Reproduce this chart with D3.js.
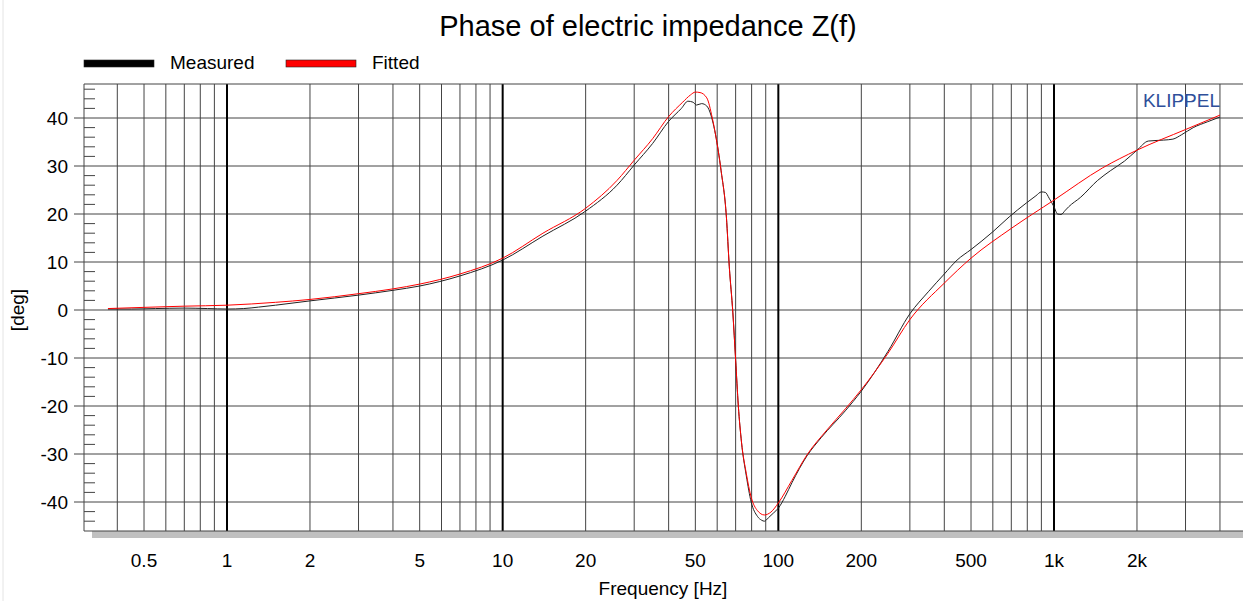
<!DOCTYPE html>
<html>
  <head>
    <meta charset="utf-8">
    <script src="https://d3js.org/d3.v7.min.js"></script>
    <title>Phase of electric impedance</title>
    <style type="text/css">
      body { margin: 0; background: #fff; }
      svg { display: block; }
      text { font-family: "Liberation Sans", Arial, sans-serif; fill: #000; }
      .grid { stroke: #444; stroke-width: 1; }
      .major { stroke: #000; stroke-width: 2; }
      .line { fill: none; stroke-width: 1; }
    </style>
  </head>
  <body>
    <div id="chart"></div>
    <script type="text/javascript">
      // fitted model curve
      var fittedFreq = [0.37, 0.5, 0.7, 1, 1.5, 2, 3, 4, 5, 7, 10, 14, 20, 26, 30, 35, 40, 45, 48, 50, 52, 55,
                        57.6, 59.2, 62, 64.8, 66.4, 68.4, 70, 71.6, 73.5, 76.5, 79.7, 84, 89, 94, 100, 112, 127,
                        150, 175, 200, 250, 300, 400, 500, 700, 1000, 1500, 2000, 3000, 4000];
      var fittedPhase = [0.3, 0.55, 0.8, 1.0, 1.6, 2.2, 3.4, 4.4, 5.4, 7.5, 10.8, 16, 21.2, 27, 31.2, 35.7, 40.3, 43.3, 44.8, 45.4, 45.3, 44.2,
                         40, 36.5, 29, 19.4, 9, -0.6, -10.4, -20, -27.5, -34, -39, -41.8, -42.7, -42.1, -40.2, -35.5, -30.2,
                         -25, -20.6, -16.6, -9, -2, 5.6, 10.8, 17, 22.9, 29.6, 33.3, 37.6, 40.6];

      // measured curve
      var measuredFreq = [0.37, 0.45, 0.55, 0.7, 0.85, 1, 1.15, 1.3, 1.5, 2, 3, 4, 5, 7, 10, 14, 20, 26, 30, 35, 40, 44.5,
                          47, 49, 50.5, 52.7, 55, 57.6, 59.2, 62, 64.8, 66.4, 68.4, 70, 71.6, 73.5, 76.5, 79.7, 84, 87,
                          89, 92, 96, 100, 106, 112, 127, 143, 175, 200, 250, 300, 350, 400, 445, 500, 600, 688, 794,
                          860, 900, 930, 960, 1000, 1030, 1060, 1100, 1130, 1250, 1440, 1600, 1800, 2000, 2200, 2500,
                          2700, 2900, 3200, 3600, 4000];
      var measuredPhase = [0.2, 0.2, 0.3, 0.4, 0.3, 0.2, 0.3, 0.6, 1.0, 1.9, 3.1, 4.1, 5.0, 7.1, 10.4, 15.4, 20.6, 26, 30.2, 34.7, 39.3, 42,
                           43.5, 43.3, 42.7, 43, 42.5, 39.6, 36.5, 29, 19.4, 9, -0.6, -10.4, -20, -27.5, -34.5, -40, -43, -43.8,
                           -44, -43.3, -42.3, -41.3, -38.8, -36, -30.4, -26.6, -21, -16.9, -8.6, -0.8, 3.8, 7.5, 10.4, 12.6, 16.3, 19.4, 22.3,
                           23.8, 24.6, 24.5, 23.3, 21.5, 20.0, 19.9, 20.8, 21.5, 23.5, 27, 29, 31, 33.3, 35.2, 35.4,
                           35.6, 36.5, 38, 39.2, 40.2];

      var xTickValues = [0.5, 1, 2, 5, 10, 20, 50, 100, 200, 500, 1000, 2000];
      var xTickLabels = ['0.5', '1', '2', '5', '10', '20', '50', '100', '200', '500', '1k', '2k'];
      var yTickValues = [-40, -30, -20, -10, 0, 10, 20, 30, 40];

      var width = 1243,
          height = 601,
          plotL = 84, plotR = 1243, plotT = 84, plotB = 531;

      var x = d3.scaleLog().domain([1, 1000]).range([227, 1054]);
      var y = d3.scaleLinear().domain([-40, 40]).range([502, 118]);

      var svg = d3.select('#chart')
        .append('svg')
        .attr('width', width)
        .attr('height', height);

      // faint window edge on the left
      svg.append('line')
        .attr('x1', 3).attr('x2', 3).attr('y1', 0).attr('y2', height)
        .attr('stroke', '#e4e4e4');

      svg.append('defs').append('clipPath').attr('id', 'plotClip')
        .append('rect')
        .attr('x', plotL).attr('y', plotT)
        .attr('width', plotR - plotL).attr('height', plotB - plotT);

      // shadow under the plot
      svg.append('rect')
        .attr('x', plotL + 8).attr('y', plotB)
        .attr('width', plotR - plotL - 8).attr('height', 7)
        .attr('fill', '#c0c0c0');

      // vertical grid, every 2..9 in each decade
      var minors = [];
      [0.1, 1, 10, 100, 1000].forEach(function(dec) {
        for (var k = 2; k <= 9; k++) {
          var v = dec * k;
          if (x(v) > plotL && x(v) < plotR) minors.push(v);
        }
      });
      svg.append('g').selectAll('line')
        .data(minors)
        .enter().append('line')
          .attr('class', 'grid')
          .attr('x1', function(d) { return x(d); })
          .attr('x2', function(d) { return x(d); })
          .attr('y1', plotT).attr('y2', plotB);

      // horizontal grid, sticking out left as major ticks
      svg.append('g').selectAll('line')
        .data(yTickValues)
        .enter().append('line')
          .attr('class', 'grid')
          .attr('x1', plotL - 10).attr('x2', plotR)
          .attr('y1', function(d) { return y(d); })
          .attr('y2', function(d) { return y(d); });

      // minor y ticks every 2 deg
      var yMinor = d3.range(-44, 48, 2).filter(function(d) { return d % 10 !== 0; });
      svg.append('g').selectAll('line')
        .data(yMinor)
        .enter().append('line')
          .attr('class', 'grid')
          .attr('x1', plotL).attr('x2', plotL + 11)
          .attr('y1', function(d) { return y(d); })
          .attr('y2', function(d) { return y(d); });

      svg.append('g').selectAll('line')
        .data([1, 10, 100, 1000])
        .enter().append('line')
          .attr('class', 'major')
          .attr('x1', function(d) { return x(d); })
          .attr('x2', function(d) { return x(d); })
          .attr('y1', plotT).attr('y2', plotB);

      // frame
      svg.append('path')
        .attr('d', 'M' + plotR + ',' + plotT + 'H' + plotL + 'V' + plotB + 'H' + plotR)
        .attr('fill', 'none')
        .attr('stroke', '#444');

      // curves
      var line = d3.line()
        .x(function(d) { return x(d[0]); })
        .y(function(d) { return y(d[1]); })
        .curve(d3.curveMonotoneX);

      var plot = svg.append('g').attr('clip-path', 'url(#plotClip)');

      plot.append('path')
        .datum(d3.zip(measuredFreq, measuredPhase))
        .attr('class', 'line')
        .attr('stroke', '#222')
        .attr('d', line);

      plot.append('path')
        .datum(d3.zip(fittedFreq, fittedPhase))
        .attr('class', 'line')
        .attr('stroke', '#ff0000')
        .attr('d', line);

      // tick labels
      svg.append('g').selectAll('text')
        .data(xTickValues)
        .enter().append('text')
          .attr('x', function(d) { return x(d); })
          .attr('y', 567)
          .attr('text-anchor', 'middle')
          .style('font-size', '19px')
          .text(function(d, i) { return xTickLabels[i]; });

      svg.append('g').selectAll('text')
        .data(yTickValues)
        .enter().append('text')
          .attr('x', 68)
          .attr('y', function(d) { return y(d); })
          .attr('dy', '0.35em')
          .attr('text-anchor', 'end')
          .style('font-size', '19px')
          .text(function(d) { return d; });

      // titles
      svg.append('text')
        .attr('x', 648).attr('y', 36)
        .attr('text-anchor', 'middle')
        .style('font-size', '29px')
        .text('Phase of electric impedance Z(f)');

      svg.append('text')
        .attr('x', 663).attr('y', 595)
        .attr('text-anchor', 'middle')
        .style('font-size', '19px')
        .text('Frequency [Hz]');

      svg.append('text')
        .attr('transform', 'translate(24,310) rotate(-90)')
        .attr('text-anchor', 'middle')
        .style('font-size', '19px')
        .text('[deg]');

      svg.append('text')
        .attr('x', 1220).attr('y', 107)
        .attr('text-anchor', 'end')
        .style('font-size', '19px')
        .style('fill', '#2f4f9a')
        .text('KLIPPEL');

      // legend
      var legend = [{name: 'Measured', color: '#000', x: 84}, {name: 'Fitted', color: '#ff0000', x: 286}];
      var lg = svg.append('g').selectAll('g')
        .data(legend)
        .enter().append('g')
          .attr('transform', function(d) { return 'translate(' + d.x + ',0)'; });
      lg.append('rect')
        .attr('x', 0).attr('y', 60)
        .attr('width', 70).attr('height', 7)
        .attr('fill', function(d) { return d.color; })
        .attr('stroke', '#222').attr('stroke-width', 0.6);
      lg.append('text')
        .attr('x', 86).attr('y', 69)
        .style('font-size', '19px')
        .text(function(d) { return d.name; });
    </script>
  </body>
</html>
